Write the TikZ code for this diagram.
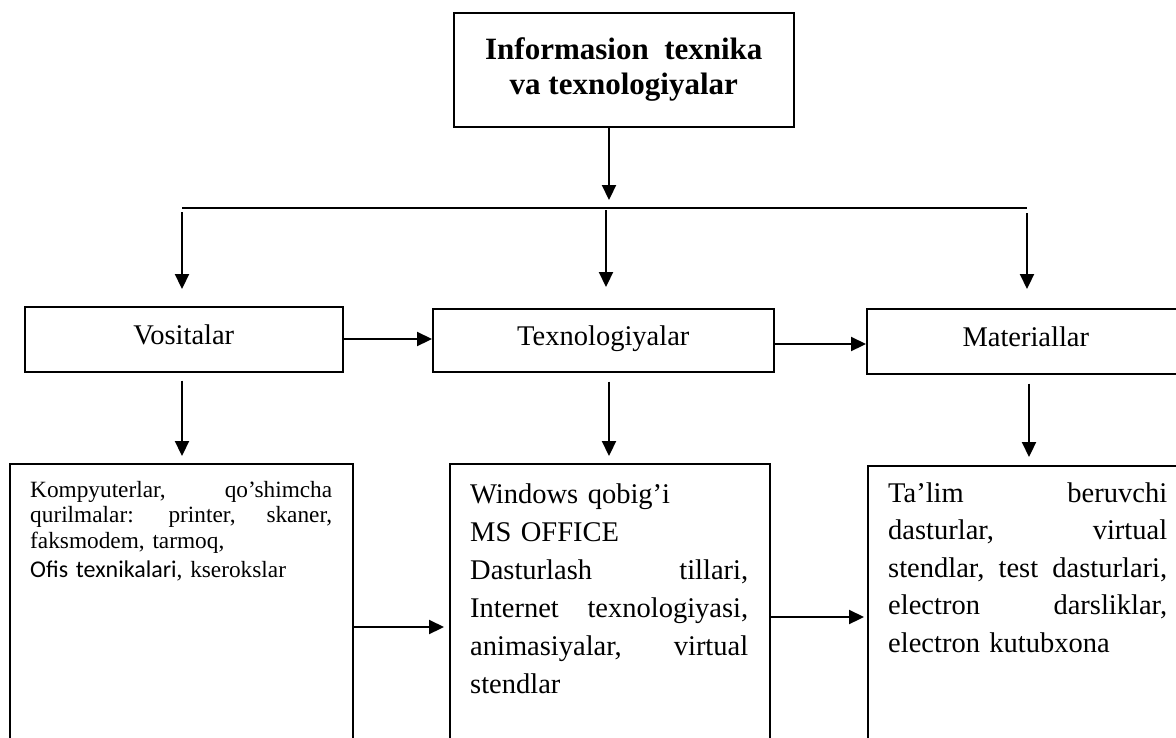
\documentclass[tikz,border=0pt]{standalone}
\usepackage{fontspec}
\setmainfont{Liberation Serif}
\newfontfamily\calibrilike{Carlito}
\usetikzlibrary{arrows.meta}
\begin{document}
\begin{tikzpicture}[x=1pt,y=-1pt,
  box/.style={draw, line width=1.6pt, rectangle, inner sep=0pt, anchor=north west},
  arr/.style={line width=2.2pt, -{Triangle[length=15pt,width=14pt]}},
  lbl/.style={font=\fontsize{28.5}{34}\selectfont, text height=15pt, text depth=4pt},
  body/.style={anchor=base west, inner sep=0pt, align=left}
]
\useasboundingbox (0,0) rectangle (1176,737);
\clip (0,0) rectangle (1176,737);

% heading
\node[box, minimum width=340pt, minimum height=114pt, align=center,
      font=\bfseries\fontsize{31}{35}\selectfont] (top) at (453,12)
      {Informasion~ texnika\\va texnologiyalar};

% second row
\node[box, lbl, minimum width=318pt, minimum height=65pt] (vos) at (24,306) {Vositalar};
\node[box, lbl, minimum width=341pt, minimum height=63pt] (tex) at (432,308) {Texnologiyalar};
\node[box, lbl, minimum width=318pt, minimum height=65pt] (mat) at (866,308) {Materiallar};

% third row (boxes run past the lower edge)
\node[box, minimum width=343pt, minimum height=320pt] (lbox) at (9,463) {};
\node[box, minimum width=320pt, minimum height=320pt] (mbox) at (449,463) {};
\node[box, minimum width=318pt, minimum height=320pt] (rbox) at (867,465) {};

\node[body, text width=302pt, font=\fontsize{23.3}{25.5}\selectfont] (ltext) at (30,497)
  {Kompyuterlar, \hfill qo’shimcha\\
   qurilmalar: \hfill printer, \hfill skaner,\\
   faksmodem, tarmoq,\\[4pt]
   {\calibrilike\fontsize{24}{28}\selectfont Ofis texnikalari}, kserokslar};
\node[body, text width=278pt, font=\fontsize{28.5}{38}\selectfont] (mtext) at (470,503)
  {Windows qobig’i\\
   MS OFFICE\\
   Dasturlash \hfill tillari,\\
   Internet \hfill texnologiyasi,\\
   animasiyalar, \hfill virtual\\
   stendlar};
\node[body, text width=279pt, font=\fontsize{28.5}{37.5}\selectfont] (rtext) at (888,502)
  {Ta’lim \hfill beruvchi\\
   dasturlar, \hfill virtual\\
   stendlar, \hfill test \hfill dasturlari,\\
   electron \hfill darsliklar,\\
   electron kutubxona};

% branching connectors
\coordinate (split) at (609,208);
\coordinate (mid) at (606,208);
\coordinate (bl) at (182,208);
\coordinate (br) at (1027,208);
\draw[line width=1.7pt] (bl) -- (br);
\draw[arr, shorten >=8pt] (top.south -| split) -- (split);
\draw[arr, shorten <=4pt, shorten >=17pt] (bl) -- (vos.north -| bl);
\draw[arr, shorten <=2pt, shorten >=21pt] (mid) -- (tex.north -| mid);
\draw[arr, shorten <=5pt, shorten >=19pt] (br) -- (mat.north -| br);

% horizontal links
\draw[arr] (vos.east |- 0,339) -- (tex.west |- 0,339);
\draw[arr] (tex.east |- 0,344) -- (mat.west |- 0,344);
\draw[arr, shorten >=5pt] (lbox.east |- 0,627) -- (mbox.west |- 0,627);
\draw[arr, shorten >=3pt] (mbox.east |- 0,617) -- (rbox.west |- 0,617);

% downward links
\draw[arr, shorten <=8pt, shorten >=7pt] (vos.south -| 182,0) -- (lbox.north -| 182,0);
\draw[arr, shorten <=9pt, shorten >=7pt] (tex.south -| 609,0) -- (mbox.north -| 609,0);
\draw[arr, shorten <=9pt, shorten >=8pt] (mat.south -| 1029,0) -- (rbox.north -| 1029,0);
\end{tikzpicture}
\end{document}
